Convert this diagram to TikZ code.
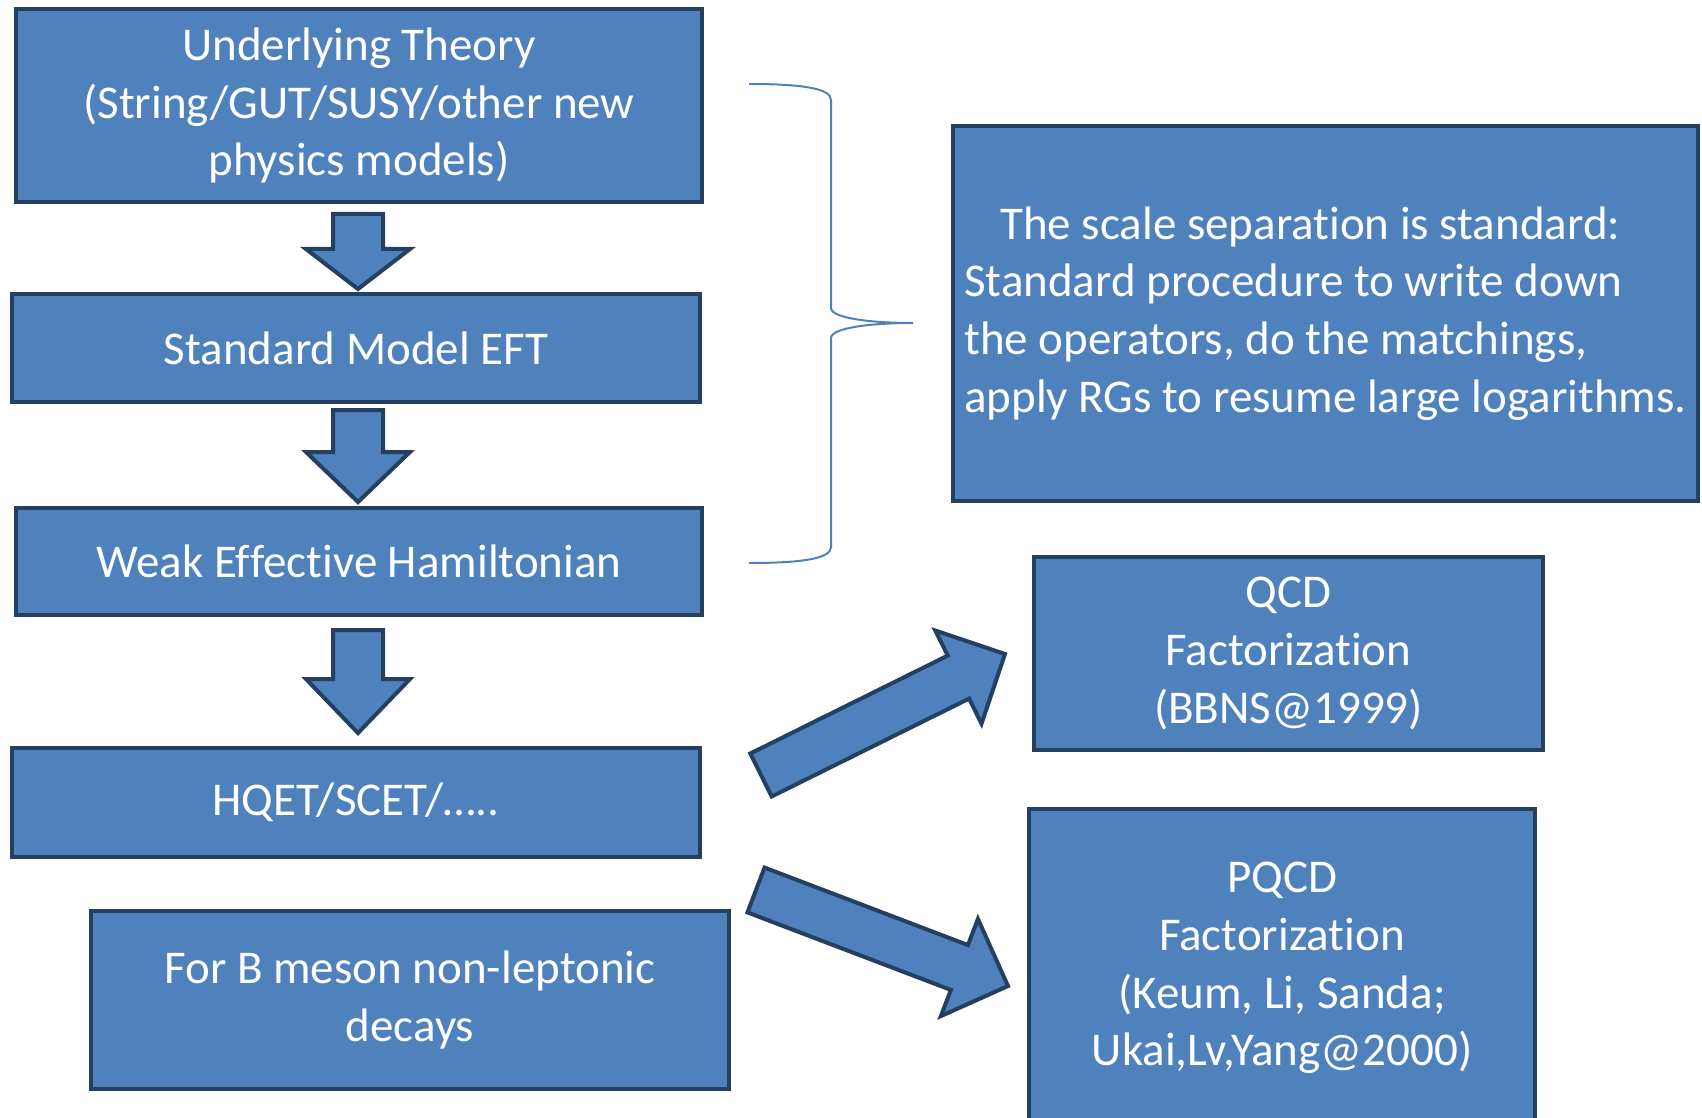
\documentclass[tikz,border=0pt]{standalone}
\usepackage{fontspec}
\setmainfont{Carlito}[RawFeature={-liga;-clig;-dlig;-calt}]
\usetikzlibrary{calc}
\definecolor{boxfill}{HTML}{4F81BD}
\definecolor{boxline}{HTML}{243F60}
\newcommand\nl{\kern0pt }
\tikzset{
  box/.style={draw=boxline, line width=2pt, fill=boxfill, text=white, align=center,
    font=\fontsize{23.5}{28.8}\selectfont, inner sep=0pt, anchor=north west},
  barrow/.style={draw=boxline, line width=2pt, fill=boxfill, line join=miter},
  bracestyle/.style={draw=boxfill, line width=1pt}
}
% block arrow: #1 tail, #2 tip, #3 shaft half width, #4 head half width, #5 head length
\newcommand\blockarr[5]{%
  \coordinate (nk) at ($(#2)!#5!(#1)$);
  \draw[barrow] ($(#1)!#3!90:(#2)$) -- ($(nk)!#3!90:(#2)$) -- ($(nk)!#4!90:(#2)$) -- (#2)
     -- ($(nk)!#4!-90:(#2)$) -- ($(nk)!#3!-90:(#2)$) -- ($(#1)!#3!-90:(#2)$) -- cycle;
}
\begin{document}
\begin{tikzpicture}[x=0.5pt,y=-0.5pt]
\useasboundingbox (0,0) rectangle (1702,1118);
\clip (0,0) rectangle (1702,1118);
\node[box, minimum width=343pt, minimum height=96.5pt] (b1) at (14,7)
  {Underlying Theory\\(String/GUT/SUSY/other new\\physics models)};
\node[box, minimum width=344pt, minimum height=54pt] (b2) at (10,292) {Standard Model EFT};
\node[box, minimum width=343pt, minimum height=53.5pt] (b3) at (14,506) {Weak Ef\nl fect\nl ive Hamiltonian};
\node[box, minimum width=344pt, minimum height=54.5pt] (b4) at (10,746) {HQET/SCET/\dots..};
\node[box, minimum width=319pt, minimum height=89pt] (b5) at (89,909) {For B meson non-leptonic\\decays};
\node[box, minimum width=372.5pt, minimum height=187.5pt, align=left] (b6) at (951,124)
  {\hspace*{18pt}The scale separat\nl ion is standard:\\Standard procedure to write down\\the operators, do the matchings,\\apply RGs to resume large logarithms.};
\node[box, minimum width=254.5pt, minimum height=96.5pt] (b7) at (1032,555) {QCD\\Factorizat\nl ion\\(BBNS@1999)};
\node[box, minimum width=253pt, minimum height=159pt] (b8) at (1027,807) {PQCD\\Factorizat\nl ion\\(Keum, Li, Sanda;\\Ukai,Lv,Yang@2000)};
% down arrows
\coordinate (t1) at (358,214); \coordinate (p1) at (358,289);
\coordinate (t2) at (358,410); \coordinate (p2) at (358,502);
\coordinate (t3) at (358,630); \coordinate (p3) at (358,733);
\blockarr{t1}{p1}{12.5pt}{26pt}{20pt}
\blockarr{t2}{p2}{12.5pt}{26pt}{25pt}
\blockarr{t3}{p3}{12.5pt}{26pt}{27pt}
% diagonal arrows
\coordinate (t4) at (761,775); \coordinate (p4) at (1005,654);
\coordinate (t5) at (756,890); \coordinate (p5) at (1008,986);
\blockarr{t4}{p4}{12pt}{26pt}{26pt}
\blockarr{t5}{p5}{12pt}{26pt}{26pt}
% brace
\coordinate (br1) at (749,84);
\coordinate (brtip) at (913,323);
\coordinate (br2) at (749,563);
\draw[bracestyle] (br1) .. controls (800,84) and (831,88) .. (831,100) -- (831,308)
  .. controls (831,318) and (870,323) .. (brtip)
  .. controls (870,323) and (831,328) .. (831,338) -- (831,547)
  .. controls (831,559) and (800,563) .. (br2);
\end{tikzpicture}
\end{document}
